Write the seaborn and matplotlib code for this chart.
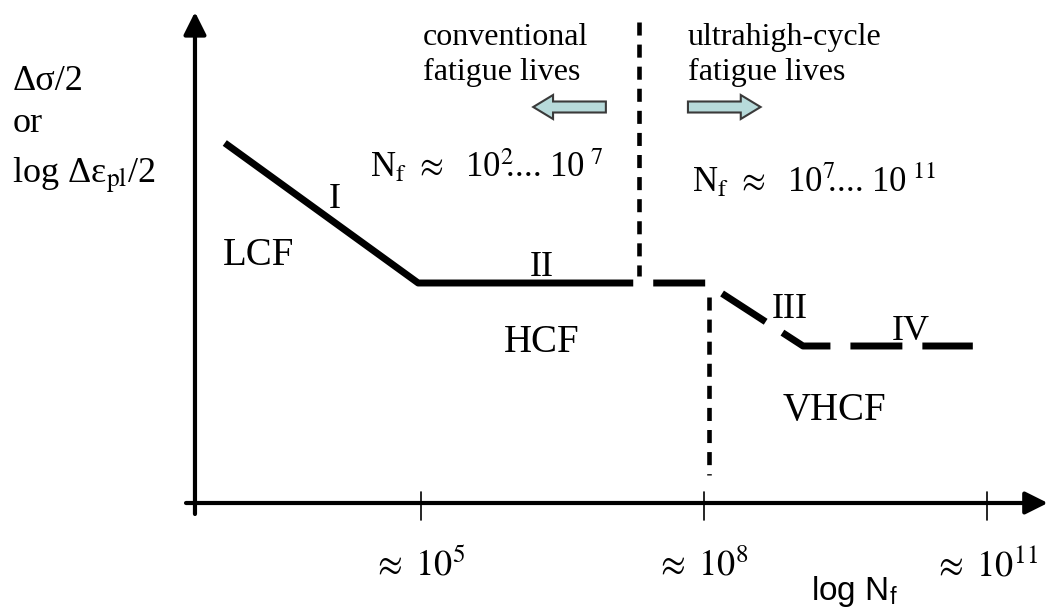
import matplotlib
matplotlib.use("Agg")
import matplotlib.pyplot as plt
import seaborn as sns
import numpy as np
import pandas as pd

# S-N curve (schematic), x = log10(N_f), y = stress amplitude (arb. units)
solid_logN = [2.92, 4.97, 7.25]
solid_amp = [3.60, 2.20, 2.20]
dashed_logN = [7.25, 8.02, 9.05, 10.85]
dashed_amp = [2.20, 2.20, 1.57, 1.57]

# regime boundaries (vertical dashed lines)
upper_boundary = 7.31          # conventional / ultrahigh-cycle
upper_span = [4.81, 2.27]
lower_boundary = 8.05
lower_span = [2.06, 0.28]

tick_exps = [5, 8, 11]
tick_labels = [r'$\approx\ 10^{%d}$' % e for e in tick_exps]

regime_labels = ['LCF', 'HCF', 'VHCF']
stage_labels = ['I', 'II', 'III', 'IV']

sns.set_theme(style="white")
plt.rcParams['font.family'] = ['Liberation Serif', 'DejaVu Serif']
plt.rcParams['mathtext.fontset'] = 'stix'
plt.rcParams['lines.scale_dashes'] = False
plt.rcParams['text.color'] = 'black'

fig = plt.figure(figsize=(10.48, 6.12), dpi=100)
ax = fig.add_axes([0, 0, 1, 1])
ax.set_xlim(0.537, 11.647)
ax.set_ylim(-1.09, 5.03)
ax.axis('off')

# axes drawn as arrows
arrow_kw = dict(arrowstyle='-|>', color='black', lw=3, mutation_scale=34,
                shrinkA=0, shrinkB=0)
ax.annotate('', xy=(2.604, 4.91), xytext=(2.604, -0.11), arrowprops=arrow_kw)
ax.annotate('', xy=(11.645, 0), xytext=(2.509, 0), arrowprops=arrow_kw)

# ticks + labels
for e, lab in zip(tick_exps, tick_labels):
    ax.plot([e, e], [0.11, -0.17], color='black', lw=1.2)
    ax.text(e - 0.02, -0.72, lab, ha='center', va='baseline', fontsize=26)

ax.text(9.60, -0.97, r'log N$_{\mathregular{f}}$', ha='center', va='baseline',
        fontsize=24, family=['Liberation Sans Narrow', 'Liberation Sans'])

# the curve
solid = pd.DataFrame({'logN': solid_logN, 'amp': solid_amp})
dashed = pd.DataFrame({'logN': dashed_logN, 'amp': dashed_amp})
sns.lineplot(data=solid, x='logN', y='amp', ax=ax, color='black', lw=5,
             estimator=None, sort=False, solid_capstyle='butt')
sns.lineplot(data=dashed, x='logN', y='amp', ax=ax, color='black', lw=5,
             estimator=None, sort=False,
             linestyle=(37.4, (37.4, 14.4)), dash_capstyle='butt')

# regime boundaries
ax.plot([upper_boundary] * 2, upper_span, color='black', lw=3.3,
        linestyle=(0, (9.4, 6.5)))
ax.plot([lower_boundary] * 2, lower_span, color='black', lw=3.3,
        linestyle=(0, (9.4, 6.5)))

# block arrows
arrow_fc, arrow_ec = '#b7dada', '#3a3a3a'
ax.arrow(6.96, 3.96, -0.77, 0, width=0.11, head_width=0.24, head_length=0.21,
         length_includes_head=True, fc=arrow_fc, ec=arrow_ec, lw=1.5)
ax.arrow(7.83, 3.96, 0.77, 0, width=0.11, head_width=0.24, head_length=0.21,
         length_includes_head=True, fc=arrow_fc, ec=arrow_ec, lw=1.5)

# header texts
ax.text(5.02, 4.58, 'conventional', fontsize=23, va='baseline')
ax.text(5.02, 4.23, 'fatigue lives', fontsize=23, va='baseline')
ax.text(7.83, 4.58, 'ultrahigh-cycle', fontsize=23, va='baseline')
ax.text(7.83, 4.23, 'fatigue lives', fontsize=23, va='baseline')

ax.text(4.46, 3.26, r'N$_\mathrm{f}$ $\approx$  10$^2\!\!$.... 10$^{\ 7}$',
        fontsize=25, va='baseline')
ax.text(7.87, 3.11, r'N$_\mathrm{f}$ $\approx$  10$^7\!\!$.... 10$^{\ 11}$',
        fontsize=25, va='baseline')

# stage / regime labels
ax.text(4.09, 2.95, stage_labels[0], fontsize=26, ha='center', va='baseline')
ax.text(6.28, 2.27, stage_labels[1], fontsize=26, ha='center', va='baseline')
ax.text(8.91, 1.85, stage_labels[2], fontsize=26, ha='center', va='baseline')
ax.text(10.19, 1.63, stage_labels[3], fontsize=26, ha='center', va='baseline')

ax.text(3.28, 2.38, regime_labels[0], fontsize=28, ha='center', va='baseline')
ax.text(6.28, 1.51, regime_labels[1], fontsize=28, ha='center', va='baseline')
ax.text(9.38, 0.83, regime_labels[2], fontsize=28, ha='center', va='baseline')

# y label
ax.text(0.675, 4.13, 'Δσ/2', fontsize=26, va='baseline')
ax.text(0.675, 3.71, 'or', fontsize=26, va='baseline')
ax.text(0.665, 3.20, r'log Δε$_{\mathrm{pl}}$/2', fontsize=26, va='baseline')

fig.savefig('out.png', dpi=100)
